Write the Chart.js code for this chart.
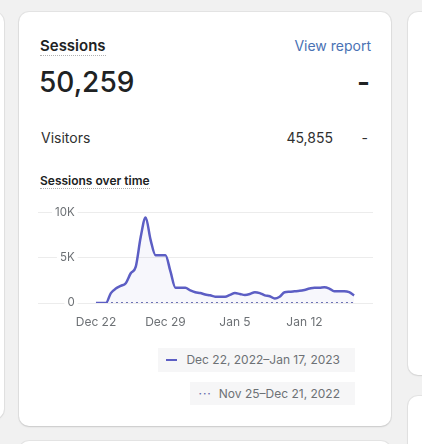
<!DOCTYPE html>
<html lang="en">

<head>
    <meta charset="UTF-8">
    <title>Sessions</title>
    <script src="https://cdn.jsdelivr.net/npm/chart.js"></script>
    <style>
        body {
            margin: 0;
            width: 422px;
            height: 444px;
            overflow: hidden;
            background: #f1f1f1;
            font-family: Inter, "Liberation Sans", sans-serif;
            color: #202223;
            position: relative;
        }

        .side-card {
            position: absolute;
            background: #fff;
            border-radius: 10px;
            box-shadow: 0 0 0 1px rgba(0, 0, 0, 0.05), 0 1px 2px rgba(0, 0, 0, 0.08);
        }

        .card {
            position: absolute;
            left: 19px;
            top: 12px;
            width: 372px;
            height: 414px;
            background: #fff;
            border-radius: 10px;
            box-shadow: 0 0 0 1px rgba(0, 0, 0, 0.05), 0 1px 2px rgba(0, 0, 0, 0.12);
        }

        .abs {
            position: absolute;
            white-space: nowrap;
        }

        .title {
            left: 40px;
            top: 37px;
            font-size: 15px;
            line-height: 18px;
            font-weight: 600;
            border-bottom: 1px dotted #b0b0b0;
        }

        .link {
            right: 51px;
            top: 37px;
            font-size: 14px;
            line-height: 17px;
            color: #4a72b4;
        }

        .big {
            left: 39px;
            top: 65px;
            font-size: 28px;
            line-height: 34px;
            font-weight: 500;
        }

        .big-dash {
            right: 52px;
            top: 65px;
            font-size: 28px;
            line-height: 34px;
            font-weight: 600;
        }

        .row {
            top: 129px;
            font-size: 14px;
            line-height: 17px;
            color: #303030;
        }

        .sub {
            left: 40px;
            top: 173px;
            font-size: 12px;
            line-height: 15px;
            font-weight: 600;
            border-bottom: 1px dotted #b0b0b0;
        }

        .chart-box {
            position: absolute;
            left: 30px;
            top: 189px;
            width: 350px;
            height: 151px;
        }

        .legend {
            position: absolute;
            right: 67px;
            background: #f6f6f7;
            height: 24px;
            line-height: 24px;
            font-size: 12px;
            color: #6d7175;
            padding: 0 15px 0 8px;
            white-space: nowrap;
        }

        .swatch {
            display: inline-block;
            width: 11px;
            height: 2px;
            background: #5c5ec4;
            vertical-align: middle;
            margin-right: 9px;
            position: relative;
            top: -1px;
        }

        .dots {
            color: #5f64a8;
            letter-spacing: 1px;
            margin-right: 7px;
        }
    </style>
</head>

<body>
    <!-- neighbouring cards -->
    <div class="side-card" style="left: -20px; top: 12px; width: 24px; height: 407px;"></div>
    <div class="side-card" style="left: 408px; top: 12px; width: 40px; height: 363px;"></div>
    <div class="side-card" style="left: 408px; top: 396px; width: 40px; height: 80px;"></div>
    <div class="side-card" style="left: 19px; top: 441px; width: 372px; height: 60px;"></div>

    <div class="card"></div>

    <div class="abs title">Sessions</div>
    <div class="abs link">View report</div>
    <div class="abs big">50,259</div>
    <div class="abs big-dash">-</div>

    <div class="abs row" style="left: 41px;">Visitors</div>
    <div class="abs row" style="right: 89px;">45,855</div>
    <div class="abs row" style="right: 54px;">-</div>

    <div class="abs sub">Sessions over time</div>

    <div class="chart-box"><canvas id="chart"></canvas></div>

    <div class="legend" style="top: 348px;"><span class="swatch"></span>Dec 22, 2022–Jan 17, 2023</div>
    <div class="legend" style="top: 382px; height: 23px; line-height: 23px;"><span class="dots">···</span>Nov 25–Dec 21, 2022</div>

    <script>
        // days since Dec 22, 2022 (half-day steps)
        const dayOffsets = [0, 0.5, 1, 1.5, 2, 2.5, 3, 3.5, 4, 4.5, 5, 5.5, 6, 6.5, 7, 7.5, 8, 8.5, 9, 9.5,
            10, 10.5, 11, 11.5, 12, 12.5, 13, 13.5, 14, 14.5, 15, 15.5, 16, 16.5, 17, 17.5, 18, 18.5, 19, 19.5,
            20, 20.5, 21, 21.5, 22, 22.5, 23, 23.5, 24, 24.5, 25, 25.5, 26];

        // Dec 22, 2022 - Jan 17, 2023
        const currentSessions = [0, 0, 0, 1100, 1600, 1900, 2200, 3300, 4000, 7300, 9500, 7000, 5300, 5300, 5300, 3500,
            1700, 1700, 1700, 1400, 1200, 1100, 950, 850, 700, 700, 700, 900, 1100, 1000, 900, 1000,
            1200, 1100, 850, 750, 500, 700, 1200, 1250, 1300, 1350, 1450, 1600, 1700, 1700, 1750, 1600,
            1300, 1300, 1300, 1200, 850];

        // Nov 25 - Dec 21, 2022
        const previousSessions = [0, 0, 0, 0, 0, 0, 0, 0, 0, 0, 0, 0, 0, 0, 0, 0, 0, 0, 0, 0,
            0, 0, 0, 0, 0, 0, 0, 0, 0, 0, 0, 0, 0, 0, 0, 0, 0, 0, 0, 0,
            0, 0, 0, 0, 0, 0, 0, 0, 0, 0, 0, 0, 0];

        const xTickDays = [0, 7, 14, 21];
        const xTickLabels = ['Dec 22', 'Dec 29', 'Jan 5', 'Jan 12'];
        const yTickValues = [0, 5000, 10000];
        const yTickLabels = ['0', '5K', '10K'];

        const toPoints = (vals) => vals.map((v, i) => ({ x: dayOffsets[i], y: v }));

        const ctx = document.getElementById('chart').getContext('2d');
        const chart = new Chart(ctx, {
            type: 'line',
            data: {
                datasets: [
                    {
                        label: 'Dec 22, 2022–Jan 17, 2023',
                        data: toPoints(currentSessions),
                        borderColor: '#5c5ec4',
                        borderWidth: 2.5,
                        backgroundColor: 'rgba(92, 94, 196, 0.05)',
                        fill: 'origin',
                        pointRadius: 0,
                        cubicInterpolationMode: 'monotone',
                        order: 1
                    },
                    {
                        label: 'Nov 25–Dec 21, 2022',
                        data: toPoints(previousSessions),
                        borderColor: '#6f74b4',
                        borderWidth: 2,
                        borderDash: [2, 3],
                        fill: false,
                        pointRadius: 0,
                        order: 2
                    }
                ]
            },
            options: {
                responsive: true,
                maintainAspectRatio: false,
                animation: false,
                layout: { padding: { left: 8, right: 7, top: 10, bottom: 0 } },
                plugins: {
                    legend: { display: false },
                    tooltip: { enabled: false }
                },
                scales: {
                    x: {
                        type: 'linear',
                        min: -5.84,
                        max: 27.9,
                        grid: { display: false, drawTicks: false },
                        border: { display: false },
                        afterBuildTicks: (scale) => {
                            scale.ticks = xTickDays.map(v => ({ value: v }));
                        },
                        afterFit: (scale) => { scale.height = 37; },
                        ticks: {
                            padding: 12,
                            maxRotation: 0,
                            color: '#6d7175',
                            font: { family: 'Inter', size: 12 },
                            callback: (v) => xTickLabels[xTickDays.indexOf(v)]
                        }
                    },
                    y: {
                        min: 0,
                        max: 10000,
                        afterBuildTicks: (scale) => {
                            scale.ticks = yTickValues.map(v => ({ value: v }));
                        },
                        afterFit: (scale) => { scale.width = 0; },
                        grid: { color: '#ececec', lineWidth: 1, drawTicks: false },
                        border: { display: false },
                        ticks: {
                            mirror: true,
                            crossAlign: 'far',
                            padding: 17,
                            color: '#6d7175',
                            font: { family: 'Inter', size: 11.5 },
                            showLabelBackdrop: true,
                            backdropColor: '#ffffff',
                            backdropPadding: { x: 3, y: 0 },
                            callback: (v) => yTickLabels[yTickValues.indexOf(v)]
                        }
                    }
                }
            }
        });
    </script>
</body>

</html>
